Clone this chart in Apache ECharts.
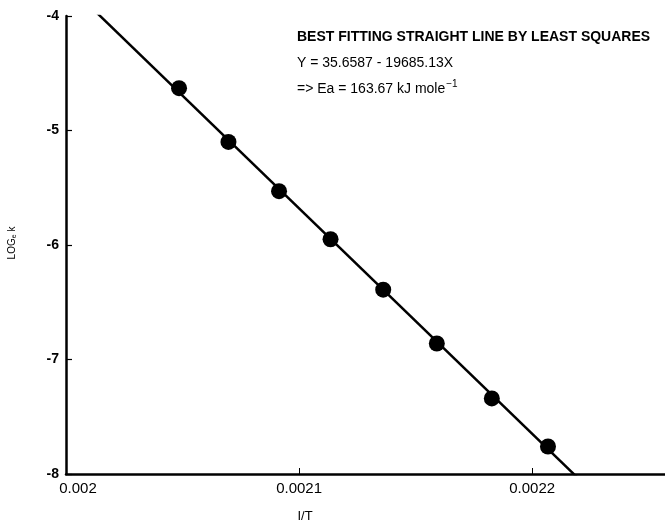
<!DOCTYPE html>
<html>
<head>
<meta charset="utf-8">
<style>
  html, body { margin: 0; padding: 0; background: #fff; }
  #chart { width: 665px; height: 523px; }
</style>
<script src="https://cdn.jsdelivr.net/npm/echarts@6/dist/echarts.min.js"></script>
</head>
<body>
<div id="chart"></div>
<script>
// Arrhenius plot: reciprocal temperature against natural log of the rate constant
const invT = [0.0020485, 0.0020697, 0.0020914, 0.0021135, 0.0021361, 0.0021591, 0.0021827, 0.0022068];
const lnK = [-4.63, -5.10, -5.53, -5.95, -6.39, -6.86, -7.34, -7.76];

// least-squares line: Y = intercept + slope * X
const intercept = 35.6587;
const slope = -19685.13;
const fitRangeX = [0.0020, 0.00225];

const xTicks = [0.002, 0.0021, 0.0022];
const yTicks = [-8, -7, -6, -5, -4];

const fontFam = '"Liberation Sans", Arial, Helvetica, sans-serif';

const fitLine = fitRangeX.map(x => [x, intercept + slope * x]);
const points = invT.map((x, i) => [x, lnK[i]]);

const chart = echarts.init(document.getElementById('chart'), null, { renderer: 'canvas' });

chart.setOption({
  backgroundColor: '#ffffff',
  animation: false,
  grid: { left: 66, right: 0, top: 16, bottom: 49, containLabel: false },
  xAxis: {
    type: 'value',
    min: xTicks[0],
    max: 0.002257,
    interval: 0.0001,
    axisLine: { show: true, onZero: false, lineStyle: { color: '#000', width: 2.5 } },
    axisTick: { show: true, inside: true, length: 6, lineStyle: { color: '#000', width: 1 } },
    splitLine: { show: false },
    axisLabel: {
      show: true,
      margin: 7,
      showMaxLabel: false,
      color: '#000',
      fontFamily: fontFam,
      fontSize: 15,
      formatter: function (v) {
        const s = String(+v.toFixed(5));
        if (Math.abs(v - xTicks[0]) < 1e-9) return '{m|' + s + '}';
        return xTicks.some(t => Math.abs(t - v) < 1e-9) ? s : '';
      },
      rich: {
        m: { fontFamily: fontFam, fontSize: 15, color: '#000', padding: [0, 0, 0, 24] }
      }
    }
  },
  yAxis: {
    type: 'value',
    min: yTicks[0],
    max: yTicks[yTicks.length - 1],
    interval: 1,
    axisLine: { show: true, onZero: false, lineStyle: { color: '#000', width: 2.5 } },
    axisTick: { show: true, inside: true, length: 6, lineStyle: { color: '#000', width: 1.2 } },
    splitLine: { show: false },
    axisLabel: {
      margin: 7,
      color: '#000',
      fontFamily: fontFam,
      fontSize: 14,
      fontWeight: 'bold',
      formatter: v => String(v)
    }
  },
  series: [
    {
      type: 'line',
      data: fitLine,
      symbol: 'none',
      clip: true,
      lineStyle: { color: '#000', width: 2.5 },
      z: 2
    },
    {
      type: 'scatter',
      data: points,
      symbol: 'circle',
      symbolSize: 16,
      itemStyle: { color: '#000', opacity: 1 },
      z: 3
    }
  ],
  graphic: [
    {
      type: 'text',
      left: 297,
      top: 30,
      style: {
        text: 'BEST FITTING STRAIGHT LINE BY LEAST SQUARES',
        fill: '#000',
        font: 'bold 14px ' + fontFam
      }
    },
    {
      type: 'text',
      left: 297,
      top: 56,
      style: {
        text: 'Y = 35.6587 - 19685.13X',
        fill: '#000',
        font: '14px ' + fontFam
      }
    },
    {
      type: 'text',
      left: 297,
      top: 79,
      style: {
        text: '{a|=> Ea = 163.67 kJ mole}{s|−1}',
        rich: {
          a: { fontFamily: fontFam, fontSize: 14, color: '#000', verticalAlign: 'bottom', lineHeight: 17 },
          s: { fontFamily: fontFam, fontSize: 10, color: '#000', verticalAlign: 'top', lineHeight: 17, padding: [0, 0, 6, 1] }
        }
      }
    },
    {
      type: 'text',
      x: 12,
      y: 243,
      rotation: Math.PI / 2,
      style: {
        text: '{a|LOG}{s|e}{a| k}',
        align: 'center',
        verticalAlign: 'middle',
        rich: {
          a: { fontFamily: fontFam, fontSize: 10, color: '#000' },
          s: { fontFamily: fontFam, fontSize: 7, color: '#000', padding: [5, 0, 0, 0] }
        }
      }
    },
    {
      type: 'text',
      x: 305,
      y: 516,
      style: {
        text: 'I/T',
        align: 'center',
        verticalAlign: 'middle',
        fill: '#000',
        font: '13px ' + fontFam
      }
    }
  ]
});
</script>
</body>
</html>
